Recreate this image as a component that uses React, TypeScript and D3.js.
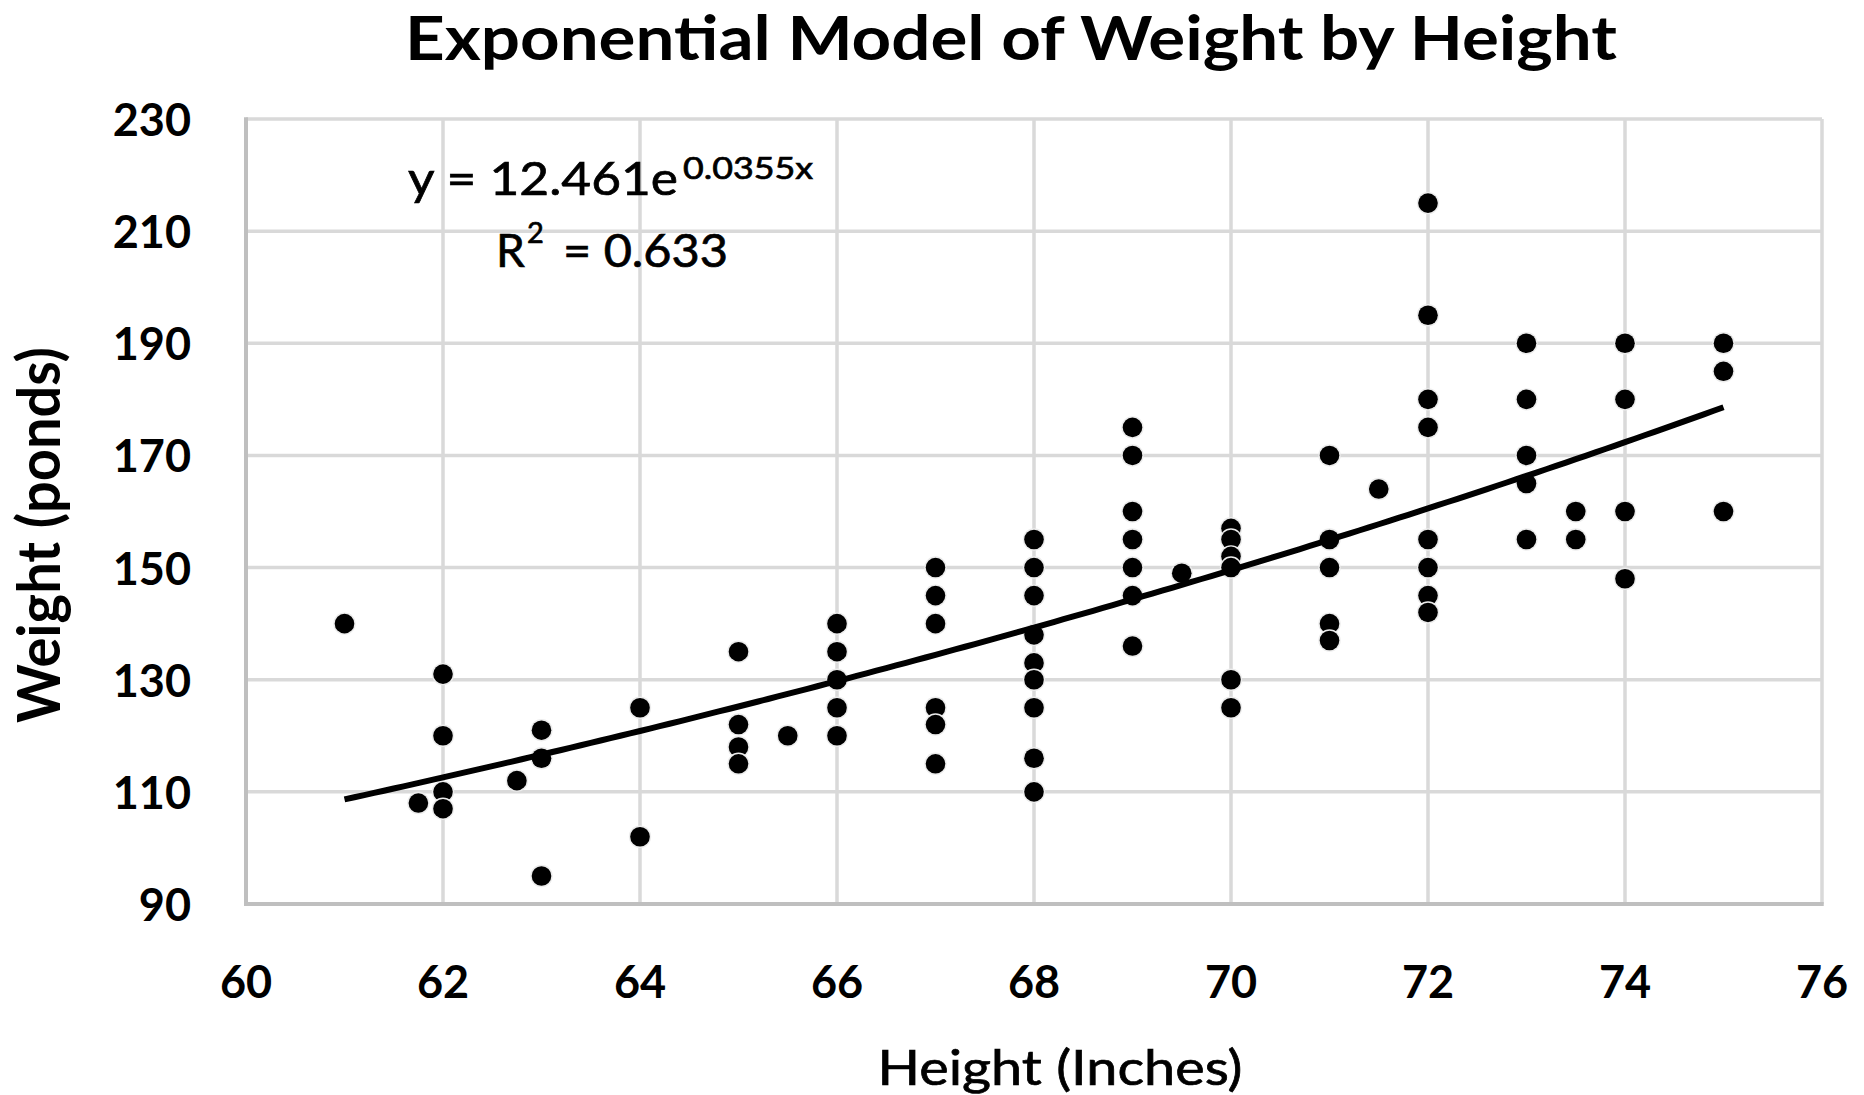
import React from 'react';
import * as d3 from 'd3';

// Height (inches) and weight (pounds) of each person, paired by index
const heightIn = [
  61, 61.75, 62, 62, 62, 62, 62.75, 63, 63, 63, 64, 64, 65, 65, 65, 65, 65.5,
  66, 66, 66, 66, 66, 67, 67, 67, 67, 67, 67,
  68, 68, 68, 68, 68, 68, 68, 68, 68,
  69, 69, 69, 69, 69, 69, 69, 69.5,
  70, 70, 70, 70, 70, 70, 71, 71, 71, 71, 71, 71.5,
  72, 72, 72, 72, 72, 72, 72, 72, 73, 73, 73, 73, 73, 73.5, 73.5,
  74, 74, 74, 74, 75, 75, 75,
];
const weightLb = [
  140, 108, 131, 120, 110, 107, 112, 121, 116, 95, 125, 102, 135, 122, 118, 115, 120,
  140, 135, 130, 125, 120, 150, 145, 140, 125, 122, 115,
  155, 150, 145, 138, 133, 130, 125, 116, 110,
  175, 170, 160, 155, 150, 145, 136, 149,
  157, 155, 152, 150, 130, 125, 170, 155, 150, 140, 137, 164,
  215, 195, 180, 175, 155, 150, 145, 142, 190, 180, 170, 165, 155, 160, 155,
  190, 180, 160, 148, 190, 185, 160,
];

// Exponential fit y = a * e^(b x)
const fitA = 12.461;
const fitB = 0.0355;
const fitRSquared = 0.633;
const fitRange = [61, 75];

const xTicks = [60, 62, 64, 66, 68, 70, 72, 74, 76];
const yTicks = [90, 110, 130, 150, 170, 190, 210, 230];

const chartTitle = 'Exponential Model of Weight by Height';
const xTitle = 'Height (Inches)';
const yTitle = 'Weight (ponds)';

const FONT = "Lato, 'Open Sans', 'DejaVu Sans', sans-serif";

export default function App() {
  const W = 1864;
  const H = 1095;
  const x = d3.scaleLinear().domain([60, 76]).range([246, 1822]);
  const y = d3.scaleLinear().domain([90, 230]).range([904, 119]);

  const fitXs = d3.range(fitRange[0], fitRange[1] + 1e-9, 0.1);
  const fitPath = d3
    .line<number>()
    .x((v) => x(v))
    .y((v) => y(fitA * Math.exp(fitB * v)))(fitXs) as string;

  const points = heightIn.map((h, i) => ({ h, w: weightLb[i] }));

  React.useEffect(() => {
    document.body.style.margin = '0';
    document.body.style.overflow = 'hidden';
  }, []);

  const [x0, x1] = x.range();
  const [y0, y1] = y.range();

  // regular-weight text gets a thin outline for a slightly heavier look
  const heavy = { stroke: '#000', strokeWidth: 0.7 };

  return (
    <svg
      width={W}
      height={H}
      style={{ position: 'absolute', left: 0, top: 0, background: '#fff' }}
      fontFamily={FONT}
    >
      <rect x={0} y={0} width={W} height={H} fill="#fff" />

      {/* vertical gridlines */}
      {xTicks.slice(1).map((t) => (
        <line key={'gx' + t} x1={x(t)} x2={x(t)} y1={y1} y2={y0} stroke="#d9d9d9" strokeWidth={3.5} />
      ))}
      {/* horizontal gridlines */}
      {yTicks.slice(1).map((t) => (
        <line key={'gy' + t} x1={x0} x2={x1} y1={y(t)} y2={y(t)} stroke="#d9d9d9" strokeWidth={3.5} />
      ))}
      {/* axis lines */}
      <line x1={x0} x2={x0} y1={y1 - 1.75} y2={y0 + 2} stroke="#bfbfbf" strokeWidth={4} />
      <line x1={x0} x2={x1 + 1.75} y1={y0} y2={y0} stroke="#bfbfbf" strokeWidth={4} />

      {/* data points */}
      {points.map((p, i) => (
        <g key={'p' + i}>
          <circle cx={x(p.h)} cy={y(p.w)} r={11.2} fill="#ececec" />
          <circle cx={x(p.h)} cy={y(p.w)} r={9.8} fill="#000" />
        </g>
      ))}

      {/* trendline */}
      <path d={fitPath} fill="none" stroke="#000" strokeWidth={6} />

      {/* y tick labels */}
      {yTicks.map((t) => (
        <text
          key={'ty' + t}
          x={191}
          y={y(t)}
          textAnchor="end"
          dominantBaseline="central"
          fontSize={45}
          fontWeight="bold"
          fill="#000"
        >
          {t}
        </text>
      ))}
      {/* x tick labels */}
      {xTicks.map((t) => (
        <text key={'tx' + t} x={x(t)} y={998} textAnchor="middle" fontSize={45} fontWeight="bold" fill="#000">
          {t}
        </text>
      ))}

      {/* title */}
      <text
        x={1011}
        y={60}
        textAnchor="middle"
        fontSize={62}
        fontWeight="bold"
        textLength={1212}
        lengthAdjust="spacingAndGlyphs"
        fill="#000"
      >
        {chartTitle}
      </text>

      {/* axis titles */}
      <text
        x={1060}
        y={1085}
        textAnchor="middle"
        fontSize={49}
        textLength={365}
        lengthAdjust="spacingAndGlyphs"
        fill="#000"
        {...heavy}
      >
        {xTitle}
      </text>
      <text
        transform="translate(60,535) rotate(-90)"
        textAnchor="middle"
        fontSize={60}
        fontWeight="bold"
        textLength={376}
        lengthAdjust="spacingAndGlyphs"
        fill="#000"
      >
        {yTitle}
      </text>

      {/* fit equation */}
      <text x={408} y={195} fontSize={46} textLength={270} lengthAdjust="spacingAndGlyphs" fill="#000" {...heavy}>
        {`y = ${fitA}e`}
      </text>
      <text x={683} y={179} fontSize={31} textLength={130} lengthAdjust="spacingAndGlyphs" fill="#000" {...heavy}>
        {`${fitB}x`}
      </text>
      <text x={496} y={267} fontSize={46} fill="#000" {...heavy}>
        R
      </text>
      <text x={527} y={243} fontSize={29} fill="#000" {...heavy}>
        2
      </text>
      <text x={563} y={267} fontSize={46} textLength={165} lengthAdjust="spacingAndGlyphs" fill="#000" {...heavy}>
        {`= ${fitRSquared}`}
      </text>
    </svg>
  );
}
